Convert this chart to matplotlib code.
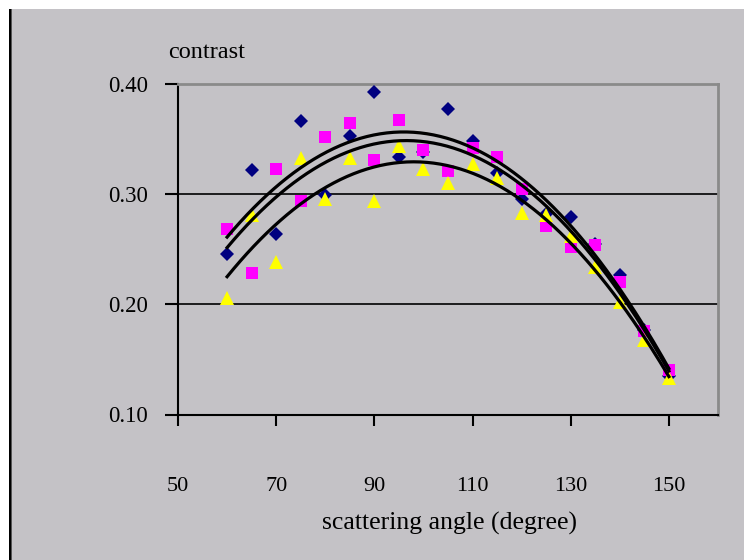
import numpy as np
import matplotlib
matplotlib.use("Agg")
import matplotlib.pyplot as plt
from matplotlib.patches import Rectangle

# scattering angle (degree)
angle = [60, 65, 70, 75, 80, 85, 90, 95, 100, 105,
         110, 115, 120, 125, 130, 135, 140, 145, 150]

# contrast, one list per marker series
navy = [0.246, 0.322, 0.264, 0.366, 0.299, 0.353, 0.393, 0.334, 0.338, 0.377,
        0.348, 0.319, 0.296, 0.282, 0.279, 0.255, 0.227, 0.177, 0.135]
magenta = [0.268, 0.228, 0.323, 0.294, 0.352, 0.365, 0.331, 0.367, 0.340, 0.321,
           0.342, 0.334, 0.305, 0.271, 0.252, 0.254, 0.220, 0.176, 0.140]
yellow = [0.206, 0.281, 0.238, 0.333, 0.296, 0.333, 0.294, 0.344, 0.323, 0.310,
          0.327, 0.315, 0.283, 0.281, 0.262, 0.234, 0.202, 0.168, 0.133]

xticks = [50, 70, 90, 110, 130, 150]
yticks = [0.10, 0.20, 0.30, 0.40]

bg = '#c4c2c6'
W, H = 744, 560

plt.rcParams['font.family'] = ['Liberation Serif', 'DejaVu Serif']

fig = plt.figure(figsize=(W / 100, H / 100), dpi=100, facecolor='white')
# grey chart area with the dark frame line on the left
fig.add_artist(Rectangle((12 / W, 0), 1, 1 - 9 / H, transform=fig.transFigure,
                         facecolor=bg, edgecolor='none', zorder=-10))
fig.add_artist(Rectangle((9 / W, 0), 2 / W, 1 - 9 / H, transform=fig.transFigure,
                         facecolor='black', edgecolor='none', zorder=-9))
fig.add_artist(Rectangle((11 / W, 0), 1 / W, 1 - 9 / H, transform=fig.transFigure,
                         facecolor='#555555', edgecolor='none', zorder=-9))

ax = fig.add_axes([178 / W, 1 - 414.5 / H, (718 - 178) / W, (414.5 - 84) / H])
ax.set_facecolor(bg)

for y in yticks[1:-1]:
    ax.axhline(y, color='black', lw=1.2, zorder=1)

ax.plot(angle, navy, 'D', color='#000080', ms=7.4, mew=0, zorder=3)
ax.plot(angle, magenta, 's', color='#ff00ff', ms=8.6, mew=0, zorder=3)
ax.plot(angle, yellow, '^', color='#ffff00', ms=9.6, mew=0, zorder=3)

# second order trend lines through each series
xs = np.linspace(min(angle), max(angle), 200)
for ys in (navy, magenta, yellow):
    c = np.polyfit(angle, ys, 2)
    ax.plot(xs, np.polyval(c, xs), color='black', lw=2.3, zorder=4)

ax.set_xlim(50, 160)
ax.set_ylim(0.10, 0.40)
ax.set_xticks(xticks)
ax.set_yticks(yticks)
ax.set_yticklabels(['%.2f' % v for v in yticks])

for s in ('top', 'right'):
    ax.spines[s].set_color('#8a8a8a')
    ax.spines[s].set_linewidth(2)
for s in ('left', 'bottom'):
    ax.spines[s].set_color('black')
    ax.spines[s].set_linewidth(1.5)

ax.tick_params(axis='x', direction='out', length=8, width=1.5, pad=37, labelsize=16)
ax.tick_params(axis='y', direction='out', length=9.4, width=1.5, pad=12, labelsize=16.5)

fig.text(168 / W, 1 - 58 / H, 'contrast', fontsize=17.5, ha='left', va='baseline')
fig.text(449 / W, 1 - 530 / H, 'scattering angle (degree)', fontsize=18.5,
         ha='center', va='baseline')

fig.savefig('out.png', dpi=100, facecolor=fig.get_facecolor())
